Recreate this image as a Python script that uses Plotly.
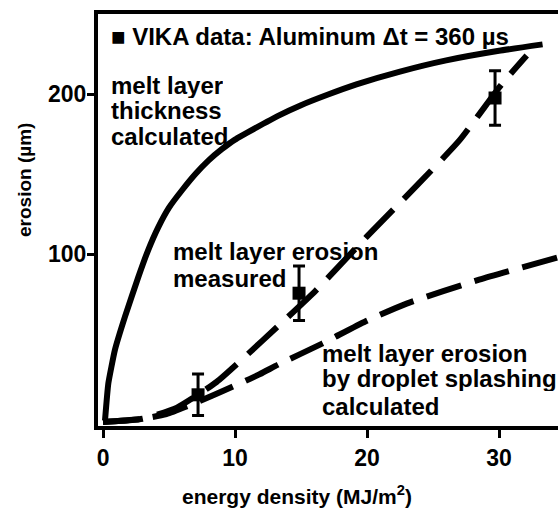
import plotly.graph_objects as go

# melt layer thickness calculated (solid)
x_thick = [0.15, 0.4, 0.9, 1.67, 2.65, 3.4, 4.2, 5.0, 6.0, 7.0, 8.0, 9.0, 10.0,
           11.5, 13.3, 15.0, 17.0, 19.2, 22.5, 26.0, 30.0, 33.3]
y_thick = [-4, 19, 40, 61, 85, 102, 117, 129, 140, 150, 158.5, 165.5, 171.5,
           178.5, 186.5, 193, 199.5, 206, 214, 221, 227, 231]

# melt layer erosion measured (dashed fit)
x_meas = [0, 3.0, 5.6, 8.6, 12.1, 16.1, 20.0, 23.8, 27.0, 30.2, 32.1]
y_meas = [-5, -3, 4, 20, 46, 77, 111, 143, 171, 206, 224]

# melt layer erosion by droplet splashing calculated (dashed)
x_splash = [0, 3.0, 4.8, 7.3, 9.8, 11.9, 13.3, 16.6, 19.9, 23.0, 28.5, 34.5]
y_splash = [-5, -3, 0, 8, 17, 25, 31, 44, 58, 69, 84, 98]

# VIKA data points
x_vika = [7.2, 14.85, 29.7]
y_vika = [12, 75.5, 197.5]
err_vika = [13, 17, 17]

x_ticks = [0, 10, 20, 30]
y_ticks = [100, 200]

FONT = "Liberation Sans, Arial, sans-serif"

fig = go.Figure()
fig.add_trace(go.Scatter(x=x_thick, y=y_thick, mode="lines",
                         line=dict(color="black", width=6, shape="spline", smoothing=0.4),
                         showlegend=False))
fig.add_trace(go.Scatter(x=x_meas, y=y_meas, mode="lines",
                         line=dict(color="black", width=6, dash="40px,15px", shape="spline", smoothing=0.5),
                         showlegend=False))
fig.add_trace(go.Scatter(x=x_splash, y=y_splash, mode="lines",
                         line=dict(color="black", width=6, dash="36px,14px", shape="spline", smoothing=0.5),
                         showlegend=False))
fig.add_trace(go.Scatter(x=x_vika, y=y_vika, mode="markers",
                         marker=dict(symbol="square", size=13, color="black"),
                         error_y=dict(type="data", array=err_vika, color="black", thickness=3, width=6),
                         showlegend=False))

def note(text, x, y, size=24, xanchor="left"):
    fig.add_annotation(text=text, x=x, y=y, xref="x", yref="y", showarrow=False,
                       xanchor=xanchor, yanchor="middle", height=25, valign="middle",
                       borderpad=0,
                       font=dict(family=FONT, size=size, color="black", weight="bold"))

note("■ VIKA data: Aluminum Δt = 360 µs", 0.53, 236, size=24)
note("melt layer", 0.53, 205.4)
note("thickness", 0.53, 189.4)
note("calculated", 0.53, 173.6)
note("melt layer erosion", 5.23, 101.3)
note("measured", 5.23, 85)
note("melt layer erosion", 16.5, 38)
note("by droplet splashing", 16.5, 21.9)
note("calculated", 16.5, 5)

fig.add_annotation(text="energy density (MJ/m<sup>2</sup>)", x=14.7, y=-0.167, xref="x", yref="paper",
                   showarrow=False, xanchor="center", yanchor="middle",
                   font=dict(family=FONT, size=21, color="black", weight="bold"))
fig.add_annotation(text="erosion (µm)", x=-0.161, y=0.597, xref="paper", yref="paper",
                   showarrow=False, xanchor="center", yanchor="middle", textangle=-90,
                   font=dict(family=FONT, size=19, color="black", weight="bold"))

fig.update_layout(
    width=558, height=508,
    margin=dict(l=98, r=0, t=14, b=82),
    paper_bgcolor="white", plot_bgcolor="white",
    font=dict(family=FONT, color="black"),
)
fig.update_xaxes(range=[-0.38, 34.47], tickvals=x_ticks, ticks="outside", ticklen=8, tickwidth=3,
                 tickcolor="black", showline=True, linewidth=4, linecolor="black", mirror=True,
                 showgrid=False, zeroline=False,
                 tickfont=dict(family=FONT, size=23, color="black", weight="bold"))
fig.update_yaxes(range=[-7.5, 250], tickvals=y_ticks, ticks="outside", ticklen=7, tickwidth=3,
                 tickcolor="black", showline=True, linewidth=4, linecolor="black",
                 showgrid=False, zeroline=False, ticklabelstandoff=-4,
                 tickfont=dict(family=FONT, size=23, color="black", weight="bold"))

fig.write_html("out.html")
